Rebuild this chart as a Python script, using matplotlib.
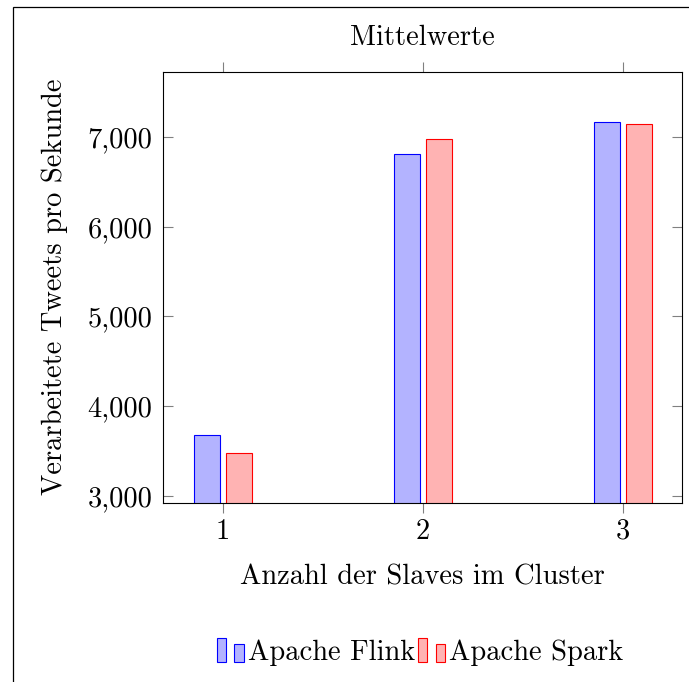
import matplotlib
matplotlib.use('Agg')
from matplotlib import pyplot as plt
from matplotlib.patches import Rectangle
import numpy as np

plt.rcParams['font.family'] = ['cmr10', 'DejaVu Serif']
plt.rcParams['axes.formatter.use_mathtext'] = True

slaves = [1, 2, 3]
flink = [3673, 6810, 7174]
spark = [3479, 6985, 7145]
yticks = [3000, 4000, 5000, 6000, 7000]
ytick_labels = ['3,000', '4,000', '5,000', '6,000', '7,000']
series = ['Apache Flink', 'Apache Spark']

FS = 20.5
W, H = 689, 682


class TwoBarHandler:
    def legend_artist(self, legend, orig_handle, fontsize, handlebox):
        x0, y0 = handlebox.xdescent, handlebox.ydescent
        w, h = handlebox.width, handlebox.height
        fc = orig_handle.get_facecolor()
        ec = orig_handle.get_edgecolor()
        tr = handlebox.get_transform()
        r1 = Rectangle((x0, y0 - h * 0.1), w * 0.34, h * 1.2, facecolor=fc,
                       edgecolor=ec, lw=0.8, transform=tr)
        r2 = Rectangle((x0 + w * 0.66, y0 - h * 0.1), w * 0.34, h * 0.9,
                       facecolor=fc, edgecolor=ec, lw=0.8, transform=tr)
        handlebox.add_artist(r1)
        handlebox.add_artist(r2)
        return r1


fig = plt.figure(figsize=(W / 100, H / 100), dpi=100)
ax = fig.add_axes([163.3 / W, 1 - 502.7 / H, (682 - 163.3) / W, (502.7 - 71.7) / H])

x = np.array(slaves)
bw = 0.13
ax.bar(x - 0.08, flink, bw, color=(0.7, 0.7, 1.0), edgecolor='blue', lw=0.8)
ax.bar(x + 0.08, spark, bw, color=(1.0, 0.7, 0.7), edgecolor='red', lw=0.8)

ax.set_xlim(0.703, 3.297)
ax.set_ylim(2922, 7731)
ax.set_xticks(slaves)
ax.set_xticklabels([str(s) for s in slaves])
ax.set_yticks(yticks)
ax.set_yticklabels(ytick_labels)
ax.tick_params(axis='x', direction='out', top=True, length=7.2, width=0.8,
               color='0.5', labelsize=FS, pad=4)
ax.tick_params(axis='y', direction='in', right=True, length=7.2, width=0.8,
               color='0.5', labelsize=FS, pad=8)
for s in ax.spines.values():
    s.set_linewidth(0.8)

ax.set_xlabel('Anzahl der Slaves im Cluster', fontsize=FS, labelpad=14)
fig.text(55 / W, 1 - 287 / H, 'Verarbeitete Tweets pro Sekunde', fontsize=FS,
         rotation=90, ha='center', va='center')
fig.text(422 / W, 1 - 38 / H, 'Mittelwerte', fontsize=FS, ha='center', va='center')

handles = [Rectangle((0, 0), 1, 1, facecolor=(0.7, 0.7, 1.0), edgecolor='blue'),
           Rectangle((0, 0), 1, 1, facecolor=(1.0, 0.7, 0.7), edgecolor='red')]
fig.legend(handles, series, loc='center', bbox_to_anchor=(420 / W, 1 - 653 / H),
           ncol=2, frameon=False, fontsize=FS, handlelength=0.95,
           handletextpad=0.15, columnspacing=0.1,
           handler_map={Rectangle: TwoBarHandler()})

# outer frame (only top and left edge visible)
fig.patches.append(Rectangle((13.3 / W, -0.1), 1.2, 1.1 - 7.3 / H, fill=False,
                             edgecolor='black', lw=0.9, transform=fig.transFigure))

fig.savefig('out.png', dpi=100)
